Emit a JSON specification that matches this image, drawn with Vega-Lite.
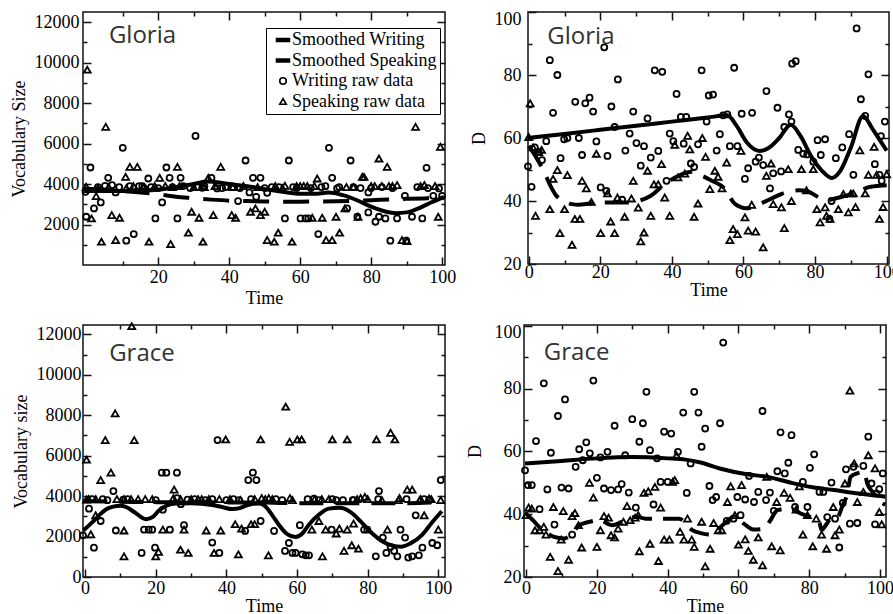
{
"$schema":"https://vega.github.io/schema/vega-lite/v6.json",
"background":"white",
"padding":{"left":9,"top":9,"right":0,"bottom":0},
"config":{
 "view":{"stroke":"#111","strokeWidth":1.5},
 "point":{"opacity":1},
 "axis":{"grid":false,"domain":false,"labelFont":"Liberation Serif","labelFontSize":18,"labelColor":"#000","titleFont":"Liberation Serif","titleFontSize":18,"titleFontWeight":"normal","titleColor":"#000","tickColor":"#111","tickWidth":1.5,"labelFlush":false,"labelOverlap":false}
},
"datasets":{
 "g1sw":[{"t":-1,"v":3650},{"t":5,"v":3650},{"t":10,"v":3650},{"t":15,"v":3680},{"t":20,"v":3720},{"t":25,"v":3850},{"t":30,"v":4000},{"t":34,"v":4120},{"t":38,"v":4050},{"t":42,"v":3950},{"t":46,"v":3870},{"t":50,"v":3750},{"t":55,"v":3620},{"t":60,"v":3520},{"t":64,"v":3520},{"t":68,"v":3580},{"t":72,"v":3450},{"t":76,"v":3200},{"t":80,"v":2880},{"t":84,"v":2640},{"t":87,"v":2560},{"t":90,"v":2600},{"t":94,"v":2850},{"t":97,"v":3100},{"t":100.5,"v":3370}],
 "g1ss":[{"t":-1,"v":3780},{"t":5,"v":3720},{"t":10,"v":3660},{"t":15,"v":3580},{"t":20,"v":3500},{"t":25,"v":3370},{"t":30,"v":3300},{"t":35,"v":3230},{"t":40,"v":3180},{"t":45,"v":3160},{"t":50,"v":3140},{"t":55,"v":3130},{"t":60,"v":3130},{"t":65,"v":3140},{"t":70,"v":3150},{"t":75,"v":3170},{"t":80,"v":3200},{"t":85,"v":3240},{"t":90,"v":3270},{"t":95,"v":3290},{"t":100.5,"v":3300}],
 "g1w":[{"t":-0.5,"v":3617,"s":"W"},{"t":-0.3,"v":2384,"s":"W"},{"t":0.9,"v":4817,"s":"W"},{"t":1.9,"v":2795,"s":"W"},{"t":3.8,"v":3091,"s":"W"},{"t":5,"v":3913,"s":"W"},{"t":5.9,"v":4307,"s":"W"},{"t":7,"v":3945,"s":"W"},{"t":8,"v":3584,"s":"W"},{"t":10,"v":5787,"s":"W"},{"t":11,"v":1200,"s":"W"},{"t":12,"v":3896,"s":"W"},{"t":13.1,"v":1529,"s":"W"},{"t":14.6,"v":3896,"s":"W"},{"t":17.2,"v":4274,"s":"W"},{"t":19.2,"v":2301,"s":"W"},{"t":21.1,"v":3091,"s":"W"},{"t":22.3,"v":4817,"s":"W"},{"t":23.2,"v":4307,"s":"W"},{"t":25.4,"v":2301,"s":"W"},{"t":26.3,"v":4307,"s":"W"},{"t":30.5,"v":6378,"s":"W"},{"t":32.4,"v":3814,"s":"W"},{"t":36.6,"v":3781,"s":"W"},{"t":42.5,"v":3156,"s":"W"},{"t":44.6,"v":5162,"s":"W"},{"t":45.7,"v":3584,"s":"W"},{"t":46.7,"v":4307,"s":"W"},{"t":47.6,"v":3370,"s":"W"},{"t":48.8,"v":4307,"s":"W"},{"t":50.7,"v":3567,"s":"W"},{"t":55.7,"v":2301,"s":"W"},{"t":56.8,"v":5162,"s":"W"},{"t":60.1,"v":2301,"s":"W"},{"t":61.5,"v":2301,"s":"W"},{"t":62.3,"v":2301,"s":"W"},{"t":65.1,"v":1529,"s":"W"},{"t":67.1,"v":3896,"s":"W"},{"t":68.1,"v":5787,"s":"W"},{"t":69,"v":4307,"s":"W"},{"t":70.4,"v":3781,"s":"W"},{"t":73.2,"v":2795,"s":"W"},{"t":74.2,"v":5162,"s":"W"},{"t":76.1,"v":2384,"s":"W"},{"t":79.2,"v":3584,"s":"W"},{"t":79.2,"v":2597,"s":"W"},{"t":81.2,"v":2137,"s":"W"},{"t":82.2,"v":2384,"s":"W"},{"t":84,"v":2301,"s":"W"},{"t":85.4,"v":1200,"s":"W"},{"t":87.3,"v":2301,"s":"W"},{"t":89.5,"v":3419,"s":"W"},{"t":89.9,"v":1200,"s":"W"},{"t":91.5,"v":2384,"s":"W"},{"t":94.4,"v":2301,"s":"W"},{"t":95.6,"v":4800,"s":"W"},{"t":97.5,"v":3419,"s":"W"},{"t":99.1,"v":3781,"s":"W"},{"t":100,"v":3419,"s":"W"},
  {"t":3,"v":3850,"s":"W"},{"t":9,"v":3850,"s":"W"},{"t":15.5,"v":3900,"s":"W"},{"t":16,"v":3800,"s":"W"},{"t":18,"v":3850,"s":"W"},{"t":20,"v":3800,"s":"W"},{"t":24,"v":3850,"s":"W"},{"t":27,"v":3900,"s":"W"},{"t":29,"v":3800,"s":"W"},{"t":31,"v":3850,"s":"W"},{"t":33,"v":3900,"s":"W"},{"t":35,"v":4300,"s":"W"},{"t":38,"v":3800,"s":"W"},{"t":39,"v":3850,"s":"W"},{"t":41,"v":3850,"s":"W"},{"t":43,"v":3800,"s":"W"},{"t":50,"v":3800,"s":"W"},{"t":52,"v":3850,"s":"W"},{"t":54,"v":3850,"s":"W"},{"t":58,"v":3850,"s":"W"},{"t":59,"v":3800,"s":"W"},{"t":63,"v":3800,"s":"W"},{"t":66,"v":3850,"s":"W"},{"t":71,"v":3850,"s":"W"},{"t":75,"v":3850,"s":"W"},{"t":77,"v":3800,"s":"W"},{"t":80,"v":3800,"s":"W"},{"t":83,"v":3850,"s":"W"},{"t":86,"v":3800,"s":"W"},{"t":93,"v":3850,"s":"W"},{"t":96,"v":3800,"s":"W"}],
 "g1s":[{"t":0,"v":9650,"s":"S"},{"t":-0.3,"v":3863,"s":"S"},{"t":1.2,"v":2301,"s":"S"},{"t":2.5,"v":3403,"s":"S"},{"t":4,"v":1151,"s":"S"},{"t":5.2,"v":6822,"s":"S"},{"t":6.9,"v":2466,"s":"S"},{"t":8,"v":1233,"s":"S"},{"t":9.1,"v":2334,"s":"S"},{"t":10.8,"v":4356,"s":"S"},{"t":12,"v":4850,"s":"S"},{"t":14.1,"v":4850,"s":"S"},{"t":17.4,"v":1151,"s":"S"},{"t":20.4,"v":4307,"s":"S"},{"t":23.5,"v":1036,"s":"S"},{"t":25.4,"v":4850,"s":"S"},{"t":28.5,"v":1595,"s":"S"},{"t":29.4,"v":2630,"s":"S"},{"t":31.5,"v":2334,"s":"S"},{"t":32.6,"v":1151,"s":"S"},{"t":34.1,"v":4307,"s":"S"},{"t":35.5,"v":2466,"s":"S"},{"t":37.6,"v":4850,"s":"S"},{"t":40.7,"v":2466,"s":"S"},{"t":41.8,"v":2334,"s":"S"},{"t":46,"v":2630,"s":"S"},{"t":47.4,"v":2795,"s":"S"},{"t":48.8,"v":2466,"s":"S"},{"t":50,"v":2630,"s":"S"},{"t":50.7,"v":1233,"s":"S"},{"t":52.7,"v":1151,"s":"S"},{"t":53.8,"v":1595,"s":"S"},{"t":55.7,"v":3913,"s":"S"},{"t":57.7,"v":1151,"s":"S"},{"t":63.4,"v":2334,"s":"S"},{"t":64.8,"v":4274,"s":"S"},{"t":66.2,"v":2334,"s":"S"},{"t":67.3,"v":1233,"s":"S"},{"t":69,"v":1233,"s":"S"},{"t":70.1,"v":2384,"s":"S"},{"t":71.1,"v":1595,"s":"S"},{"t":72.6,"v":2795,"s":"S"},{"t":76.3,"v":2384,"s":"S"},{"t":77.5,"v":4356,"s":"S"},{"t":82.2,"v":5261,"s":"S"},{"t":84.5,"v":4850,"s":"S"},{"t":87.3,"v":3945,"s":"S"},{"t":88.7,"v":1233,"s":"S"},{"t":90.1,"v":1184,"s":"S"},{"t":92.5,"v":6822,"s":"S"},{"t":93.9,"v":3896,"s":"S"},{"t":98.9,"v":2384,"s":"S"},{"t":99.5,"v":5836,"s":"S"},
  {"t":3,"v":3800,"s":"S"},{"t":6,"v":3850,"s":"S"},{"t":11,"v":3800,"s":"S"},{"t":13,"v":3900,"s":"S"},{"t":16,"v":3850,"s":"S"},{"t":19,"v":3900,"s":"S"},{"t":22,"v":3900,"s":"S"},{"t":24,"v":3850,"s":"S"},{"t":26,"v":3900,"s":"S"},{"t":30,"v":3850,"s":"S"},{"t":33,"v":3850,"s":"S"},{"t":36,"v":3900,"s":"S"},{"t":41,"v":3850,"s":"S"},{"t":44,"v":3900,"s":"S"},{"t":48,"v":3850,"s":"S"},{"t":53,"v":3900,"s":"S"},{"t":55,"v":3800,"s":"S"},{"t":59,"v":3900,"s":"S"},{"t":60,"v":3900,"s":"S"},{"t":61,"v":3900,"s":"S"},{"t":62,"v":3900,"s":"S"},{"t":64,"v":3900,"s":"S"},{"t":73,"v":3850,"s":"S"},{"t":75,"v":3850,"s":"S"},{"t":78,"v":4350,"s":"S"},{"t":80,"v":3900,"s":"S"},{"t":81,"v":3900,"s":"S"},{"t":83,"v":3900,"s":"S"},{"t":85,"v":3900,"s":"S"},{"t":86,"v":3900,"s":"S"},{"t":95,"v":3950,"s":"S"},{"t":98,"v":3900,"s":"S"}],
 "g2sw":[{"t":-0.2,"v":60},{"t":10,"v":61.3},{"t":20,"v":62.6},{"t":30,"v":63.9},{"t":40,"v":65.2},{"t":50,"v":66.5},{"t":55.5,"v":67.2},{"t":58,"v":64},{"t":61,"v":58.5},{"t":64.5,"v":55.9},{"t":67,"v":56.8},{"t":70,"v":60},{"t":73.2,"v":64.2},{"t":76,"v":60.5},{"t":79,"v":54},{"t":82,"v":49.5},{"t":84.6,"v":47.3},{"t":87,"v":49.5},{"t":90,"v":57},{"t":93.4,"v":67},{"t":96,"v":63},{"t":98,"v":59.5},{"t":100,"v":56}],
 "g2ss":[{"t":0,"v":57.5},{"t":2,"v":54},{"t":4,"v":50},{"t":6,"v":45},{"t":7.5,"v":42},{"t":10,"v":40},{"t":12,"v":39},{"t":14,"v":38.8},{"t":17,"v":39.2},{"t":20,"v":39.5},{"t":24,"v":39.5},{"t":27,"v":39.5},{"t":30.5,"v":40},{"t":34,"v":41.6},{"t":38,"v":45.3},{"t":41,"v":47.5},{"t":44,"v":49},{"t":45.5,"v":49.3},{"t":48.8,"v":47.8},{"t":51,"v":46.5},{"t":54.4,"v":44.3},{"t":57.7,"v":39},{"t":60.8,"v":37.7},{"t":63,"v":38.3},{"t":66,"v":39.8},{"t":69.7,"v":41.8},{"t":72.5,"v":43},{"t":75.3,"v":43.4},{"t":78,"v":43},{"t":81,"v":41.2},{"t":83,"v":40.2},{"t":84.5,"v":40.5},{"t":88,"v":41.5},{"t":91.8,"v":42.8},{"t":95,"v":44.4},{"t":98.6,"v":44.9},{"t":100,"v":45}],
 "g2w":[{"t":-0.2,"v":51},{"t":0.8,"v":44.5},{"t":1.7,"v":57},{"t":2.8,"v":55.5},{"t":3.7,"v":53},{"t":4.9,"v":59},{"t":5.9,"v":84.7},{"t":6.8,"v":68},{"t":8,"v":80},{"t":8.9,"v":53.6},{"t":9.9,"v":59.6},{"t":10.8,"v":60},{"t":13,"v":71.5},{"t":14,"v":60},{"t":14.9,"v":54.6},{"t":15.8,"v":71},{"t":17,"v":72.8},{"t":18,"v":68.4},{"t":18.9,"v":58.9},{"t":20.1,"v":44.3},{"t":21.1,"v":88.8},{"t":21.7,"v":43.2},{"t":22,"v":54.3},{"t":23.1,"v":70},{"t":24,"v":63.5},{"t":24.9,"v":78.6},{"t":26.1,"v":40.4},{"t":27,"v":56},{"t":28.2,"v":61.4},{"t":29.2,"v":68.4},{"t":30.1,"v":58.4},{"t":31.3,"v":51.2},{"t":32.2,"v":57.4},{"t":33.2,"v":66.2},{"t":34.1,"v":53.8},{"t":35.2,"v":81.5},{"t":36.2,"v":55.9},{"t":37.3,"v":81},{"t":38.5,"v":46.4},{"t":39.4,"v":61.4},{"t":40.4,"v":59},{"t":41.3,"v":74},{"t":42.5,"v":66.7},{"t":43.3,"v":58.2},{"t":44,"v":66.7},{"t":45.3,"v":51.9},{"t":46.2,"v":50.8},{"t":47.3,"v":58},{"t":48.3,"v":81.5},{"t":49.7,"v":65.2},{"t":50.3,"v":73.5},{"t":51.5,"v":73.8},{"t":52.5,"v":56},{"t":53.4,"v":61.2},{"t":54.3,"v":67.2},{"t":55.5,"v":67.5},{"t":56.2,"v":57.4},{"t":57.4,"v":82.3},{"t":58.3,"v":57.4},{"t":59.5,"v":67.7},{"t":60.4,"v":47},{"t":61.3,"v":50.4},{"t":62.4,"v":68},{"t":63.4,"v":52.5},{"t":64.3,"v":53.8},{"t":65.5,"v":51.4},{"t":66.4,"v":74.9},{"t":67.4,"v":44},{"t":68.3,"v":48.8},{"t":69.5,"v":69.6},{"t":70.5,"v":49.4},{"t":71.4,"v":63.5},{"t":72.7,"v":67.5},{"t":73.4,"v":65.2},{"t":73.6,"v":83.6},{"t":74.6,"v":84.4},{"t":75.3,"v":56.2},{"t":76.7,"v":55},{"t":77.8,"v":54.8},{"t":79.5,"v":52.5},{"t":80.7,"v":59.3},{"t":81.6,"v":54.6},{"t":82.8,"v":59.6},{"t":84,"v":34.3},{"t":84.6,"v":40},{"t":85.8,"v":53.6},{"t":87.6,"v":57},{"t":89.5,"v":61.2},{"t":90.7,"v":48.3},{"t":91.6,"v":94.8},{"t":92.8,"v":72.3},{"t":94,"v":67},{"t":94.9,"v":80.2},{"t":96.7,"v":51.7},{"t":98,"v":48.3},{"t":98.4,"v":60.6},{"t":98.6,"v":46.4},{"t":99.5,"v":65.2}],
 "g2s":[{"t":0.4,"v":71},{"t":0,"v":60.3},{"t":1.2,"v":57},{"t":2.8,"v":55.5},{"t":3.6,"v":56.2},{"t":1.9,"v":35.3},{"t":5.9,"v":37.4},{"t":6.8,"v":47},{"t":8,"v":49.8},{"t":8.7,"v":29.8},{"t":10.8,"v":48.2},{"t":10,"v":37.4},{"t":12.1,"v":26.1},{"t":12.9,"v":34.3},{"t":14.3,"v":34.3},{"t":14.9,"v":46.4},{"t":16.1,"v":44},{"t":17.5,"v":39.7},{"t":18.9,"v":55},{"t":20.1,"v":29.8},{"t":22,"v":42.4},{"t":22.9,"v":33.5},{"t":24,"v":29.8},{"t":24.8,"v":41.1},{"t":26.8,"v":35},{"t":28.7,"v":40.8},{"t":29.2,"v":46.4},{"t":30.6,"v":37.9},{"t":31.3,"v":27.2},{"t":32.2,"v":30},{"t":33.2,"v":49.6},{"t":34.1,"v":35.3},{"t":35,"v":45.3},{"t":36.2,"v":45.3},{"t":37.1,"v":51.7},{"t":38,"v":41.1},{"t":39.4,"v":35.3},{"t":40.8,"v":57.8},{"t":41.7,"v":47.5},{"t":43.6,"v":48.7},{"t":44.4,"v":60.7},{"t":45,"v":56.4},{"t":46.2,"v":35},{"t":47.3,"v":39.2},{"t":48.5,"v":60},{"t":49.4,"v":54},{"t":50.6,"v":43.8},{"t":52,"v":49.6},{"t":52.9,"v":47.7},{"t":54,"v":44},{"t":55.3,"v":52.2},{"t":56.2,"v":27.6},{"t":57.1,"v":31.1},{"t":58.3,"v":29.5},{"t":59.3,"v":55.9},{"t":60.4,"v":34.8},{"t":61.3,"v":30.6},{"t":62.3,"v":38.8},{"t":63.4,"v":30.3},{"t":65.5,"v":25.3},{"t":66.4,"v":48},{"t":67.7,"v":51.9},{"t":68.3,"v":39},{"t":70.6,"v":38},{"t":71.4,"v":31.4},{"t":72.5,"v":50.1},{"t":73.4,"v":40},{"t":76.2,"v":50.1},{"t":77.6,"v":43.4},{"t":79.5,"v":50.1},{"t":80.5,"v":37.4},{"t":81.4,"v":33.2},{"t":82.8,"v":38},{"t":83.2,"v":35.3},{"t":84.2,"v":34.3},{"t":86.5,"v":37.4},{"t":87.9,"v":42.2},{"t":89.3,"v":36.4},{"t":90,"v":42.4},{"t":90.7,"v":42.4},{"t":91.3,"v":38.1},{"t":92.5,"v":56.1},{"t":94,"v":42.4},{"t":94.9,"v":48.3},{"t":96.5,"v":57.2},{"t":97.2,"v":48.3},{"t":98,"v":34.3},{"t":99,"v":38.1},{"t":100,"v":48.5}],
 "g3sw":[{"t":-0.5,"v":2300},{"t":2,"v":2700},{"t":4,"v":3060},{"t":6,"v":3350},{"t":7.7,"v":3470},{"t":10,"v":3520},{"t":11.5,"v":3470},{"t":14,"v":3200},{"t":17.2,"v":2860},{"t":19,"v":2950},{"t":21,"v":3300},{"t":23,"v":3520},{"t":25.7,"v":3640},{"t":30,"v":3650},{"t":36,"v":3560},{"t":39,"v":3450},{"t":41.7,"v":3360},{"t":44,"v":3420},{"t":46,"v":3560},{"t":49.3,"v":3640},{"t":51,"v":3500},{"t":53,"v":3050},{"t":55,"v":2550},{"t":57,"v":2150},{"t":59.6,"v":1980},{"t":61.5,"v":2150},{"t":63.4,"v":2600},{"t":66,"v":3050},{"t":69,"v":3380},{"t":72,"v":3420},{"t":75.7,"v":3140},{"t":78,"v":2750},{"t":81.3,"v":2150},{"t":84,"v":1780},{"t":87,"v":1550},{"t":89.5,"v":1500},{"t":92,"v":1650},{"t":95.5,"v":2100},{"t":98,"v":2650},{"t":101,"v":3250}],
 "g3ss":[{"t":-0.5,"v":3750},{"t":10,"v":3720},{"t":20,"v":3700},{"t":30,"v":3700},{"t":40,"v":3680},{"t":50,"v":3680},{"t":60,"v":3650},{"t":70,"v":3650},{"t":80,"v":3650},{"t":90,"v":3650},{"t":101,"v":3700}],
 "g3w":[{"t":-0.6,"v":2060},{"t":1.1,"v":3380},{"t":2.5,"v":1450},{"t":4.4,"v":2770},{"t":6.3,"v":3800},{"t":8,"v":4250},{"t":8.7,"v":2300},{"t":10.8,"v":3830},{"t":16,"v":1190},{"t":16.7,"v":2340},{"t":18,"v":2340},{"t":19,"v":2340},{"t":19.8,"v":1450},{"t":22,"v":3330},{"t":21.7,"v":5160},{"t":23,"v":5160},{"t":24,"v":2340},{"t":26,"v":5160},{"t":27.1,"v":3600},{"t":28,"v":2560},{"t":29,"v":3830},{"t":34,"v":3800},{"t":36,"v":1700},{"t":37.5,"v":6770},{"t":38,"v":1190},{"t":40,"v":3800},{"t":43.6,"v":3800},{"t":45.3,"v":2280},{"t":46.2,"v":4790},{"t":47.5,"v":5160},{"t":48.5,"v":4790},{"t":49.7,"v":2770},{"t":53.5,"v":2280},{"t":55.8,"v":3800},{"t":56.6,"v":1290},{"t":57.7,"v":1680},{"t":58.7,"v":1190},{"t":59.6,"v":1190},{"t":60.8,"v":2560},{"t":61.5,"v":1120},{"t":62.5,"v":1070},{"t":63.4,"v":1070},{"t":64.8,"v":3880},{"t":66.2,"v":3800},{"t":69.8,"v":2340},{"t":71.1,"v":3800},{"t":73,"v":3800},{"t":75.8,"v":3800},{"t":79,"v":2340},{"t":79.9,"v":2340},{"t":82.3,"v":1020},{"t":83.2,"v":4250},{"t":84.3,"v":1950},{"t":85.3,"v":1190},{"t":86.5,"v":1490},{"t":87.5,"v":1290},{"t":88.4,"v":1020},{"t":89.3,"v":2340},{"t":90.6,"v":1950},{"t":91.5,"v":960},{"t":92.6,"v":1020},{"t":93.6,"v":3050},{"t":94.5,"v":1070},{"t":95.5,"v":1450},{"t":97.4,"v":3800},{"t":98.3,"v":1680},{"t":99.7,"v":1570},{"t":100.7,"v":4790},
  {"t":2,"v":3850},{"t":5,"v":3850},{"t":12,"v":3850},{"t":20,"v":3800},{"t":26,"v":3900},{"t":31,"v":3850},{"t":36,"v":3850},{"t":42,"v":3850},{"t":47,"v":3850},{"t":54,"v":3850},{"t":63,"v":3850},{"t":70,"v":3850},{"t":76,"v":3800},{"t":83,"v":3850},{"t":91,"v":3850},{"t":96,"v":3850}],
 "g3s":[{"t":0.4,"v":3830},{"t":0.4,"v":5800},{"t":1.6,"v":2110},{"t":3,"v":3050},{"t":4.4,"v":4790},{"t":5.7,"v":6770},{"t":7.3,"v":5160},{"t":8.5,"v":8090},{"t":11,"v":2300},{"t":13.2,"v":12400},{"t":13.9,"v":6770},{"t":11,"v":1020},{"t":20,"v":1020},{"t":20.8,"v":1240},{"t":22,"v":2340},{"t":25.2,"v":4320},{"t":27,"v":1350},{"t":29.2,"v":1190},{"t":28,"v":2340},{"t":34.3,"v":2300},{"t":36.5,"v":1190},{"t":38.4,"v":2300},{"t":39.8,"v":6800},{"t":42.5,"v":2610},{"t":43.4,"v":1120},{"t":44.3,"v":2390},{"t":47,"v":2610},{"t":48,"v":2610},{"t":49.7,"v":6800},{"t":51.9,"v":1070},{"t":56.8,"v":8420},{"t":57.9,"v":6680},{"t":58.7,"v":3800},{"t":60.1,"v":6800},{"t":61.3,"v":6800},{"t":64.2,"v":2340},{"t":66.2,"v":2770},{"t":67.2,"v":1020},{"t":68.1,"v":2340},{"t":70,"v":6800},{"t":71.1,"v":2150},{"t":72,"v":2390},{"t":73.3,"v":1290},{"t":74.2,"v":6800},{"t":74.2,"v":2340},{"t":75.5,"v":1570},{"t":76,"v":2640},{"t":77.4,"v":1400},{"t":79.2,"v":3960},{"t":82.5,"v":6800},{"t":84,"v":3800},{"t":85.6,"v":2340},{"t":86.5,"v":7130},{"t":87.7,"v":6800},{"t":88.7,"v":3800},{"t":91.2,"v":4320},{"t":92.6,"v":4320},{"t":94.7,"v":3800},{"t":96,"v":3050},{"t":97.4,"v":3880},{"t":100,"v":2340},{"t":100.7,"v":3800},
  {"t":1,"v":3850},{"t":3,"v":3850},{"t":9,"v":3850},{"t":11,"v":3850},{"t":13,"v":3850},{"t":15,"v":3850},{"t":17,"v":3850},{"t":19,"v":3850},{"t":25,"v":3900},{"t":27,"v":3850},{"t":30,"v":3850},{"t":32,"v":3850},{"t":33,"v":3850},{"t":35,"v":3850},{"t":38,"v":3850},{"t":41,"v":3850},{"t":44,"v":3800},{"t":48,"v":3850},{"t":50,"v":3900},{"t":51,"v":3850},{"t":52,"v":3900},{"t":53,"v":3850},{"t":58,"v":3900},{"t":65,"v":3850},{"t":67,"v":3850},{"t":69,"v":3850},{"t":77,"v":3850},{"t":78,"v":3900},{"t":80,"v":3850},{"t":89,"v":3900},{"t":95,"v":3850},{"t":98,"v":3850}],
 "g4sw":[{"t":-0.3,"v":56.2},{"t":10,"v":57},{"t":20,"v":57.8},{"t":30,"v":58.2},{"t":40,"v":57.8},{"t":45,"v":57.4},{"t":49.3,"v":56.5},{"t":55,"v":54.5},{"t":62,"v":52.8},{"t":68.2,"v":51.9},{"t":75,"v":50},{"t":81,"v":48.6},{"t":87,"v":47.7},{"t":94,"v":46.6},{"t":100.2,"v":45.8},{"t":101.5,"v":45.6}],
 "g4ss":[{"t":-0.1,"v":40.2},{"t":2,"v":38},{"t":4.2,"v":35.4},{"t":6,"v":34},{"t":7.9,"v":32.8},{"t":10.7,"v":32.3},{"t":12.6,"v":33.3},{"t":15,"v":36.5},{"t":18,"v":37.6},{"t":20.6,"v":38.1},{"t":24.4,"v":36.5},{"t":27,"v":37.6},{"t":31,"v":39.2},{"t":33.8,"v":38.6},{"t":36.5,"v":38.6},{"t":39.5,"v":38.6},{"t":43.2,"v":38.6},{"t":47,"v":34.9},{"t":49.3,"v":34},{"t":52,"v":33.5},{"t":54.5,"v":35.5},{"t":56.5,"v":37.5},{"t":58.8,"v":39.2},{"t":61.5,"v":37},{"t":64.4,"v":35.1},{"t":67.2,"v":35.4},{"t":69,"v":38},{"t":71,"v":41.3},{"t":74.3,"v":41.8},{"t":78,"v":40},{"t":80.5,"v":39},{"t":82.8,"v":37.6},{"t":83.5,"v":35},{"t":85,"v":37},{"t":86.6,"v":39.2},{"t":88,"v":39.2},{"t":89.5,"v":43},{"t":90.8,"v":46.6},{"t":91.7,"v":51.9},{"t":93.5,"v":53},{"t":95.5,"v":53.5},{"t":96.4,"v":49.8},{"t":98,"v":47},{"t":100.2,"v":43.9},{"t":101.5,"v":43}],
 "g4w":[{"t":-0.3,"v":54},{"t":0.5,"v":49.3},{"t":1.6,"v":49.3},{"t":2.8,"v":63.3},{"t":3.8,"v":41.6},{"t":5,"v":81.7},{"t":6,"v":47.9},{"t":7,"v":59.6},{"t":8,"v":36.7},{"t":9,"v":71.3},{"t":10,"v":48.5},{"t":11,"v":76.6},{"t":12,"v":48.2},{"t":13,"v":33.5},{"t":14,"v":55.1},{"t":15,"v":60.7},{"t":16,"v":57.2},{"t":17,"v":62.9},{"t":18,"v":59.4},{"t":19,"v":82.6},{"t":20,"v":51.6},{"t":21,"v":58.1},{"t":22,"v":48.2},{"t":23,"v":59.9},{"t":24,"v":47.7},{"t":25,"v":68.2},{"t":26,"v":47.9},{"t":27,"v":49.6},{"t":28,"v":58.8},{"t":29,"v":46.9},{"t":30,"v":70.3},{"t":31,"v":42.1},{"t":32,"v":63.1},{"t":33,"v":69},{"t":34,"v":79},{"t":35,"v":60.4},{"t":36,"v":43.1},{"t":37,"v":57.8},{"t":38,"v":50.3},{"t":39,"v":66.3},{"t":40,"v":50.3},{"t":41,"v":65.7},{"t":42.9,"v":59.9},{"t":44.4,"v":72.4},{"t":45.4,"v":46.8},{"t":46.5,"v":56.2},{"t":47.5,"v":79},{"t":48.7,"v":72.4},{"t":49.6,"v":61.5},{"t":50.6,"v":67.3},{"t":51.8,"v":49},{"t":52.7,"v":44.5},{"t":53.7,"v":45.5},{"t":54.8,"v":69},{"t":55.7,"v":94.7},{"t":56.7,"v":37.9},{"t":58.6,"v":38.6},{"t":59.7,"v":45.5},{"t":60.6,"v":39.7},{"t":61.9,"v":44.7},{"t":63,"v":52.2},{"t":64.4,"v":43.9},{"t":65.6,"v":47.1},{"t":66.8,"v":72.9},{"t":67.8,"v":44.5},{"t":68.9,"v":46.9},{"t":70,"v":41.1},{"t":71,"v":53.7},{"t":71.9,"v":66.1},{"t":73.1,"v":53},{"t":74.1,"v":56.4},{"t":75,"v":65.2},{"t":76,"v":42.3},{"t":78.2,"v":50.3},{"t":79.5,"v":42.3},{"t":80.2,"v":54.8},{"t":81.4,"v":59.1},{"t":82.9,"v":47.1},{"t":84,"v":47.1},{"t":85.1,"v":39.1},{"t":86.3,"v":50.1},{"t":87.3,"v":38.6},{"t":88.5,"v":29.4},{"t":89.5,"v":43.6},{"t":90.4,"v":54.3},{"t":91.5,"v":37},{"t":92.5,"v":55.1},{"t":93.6,"v":37.2},{"t":95.3,"v":55.4},{"t":96.7,"v":64.7},{"t":97.6,"v":49.8},{"t":98.6,"v":36.8},{"t":99,"v":46.6},{"t":99.8,"v":48},{"t":100.8,"v":53}],
 "g4s":[{"t":0,"v":39.7},{"t":0.7,"v":42.1},{"t":1.6,"v":41.8},{"t":2.5,"v":34.9},{"t":3.8,"v":34.9},{"t":5,"v":36},{"t":5.6,"v":33.5},{"t":6.8,"v":26.4},{"t":7.7,"v":42.3},{"t":9,"v":21.9},{"t":9.9,"v":31.9},{"t":10.5,"v":41},{"t":12,"v":25.5},{"t":13,"v":39.4},{"t":13.8,"v":40.4},{"t":14.8,"v":36.5},{"t":15.7,"v":29.4},{"t":17.9,"v":50},{"t":19,"v":45.3},{"t":20,"v":29.6},{"t":21,"v":34.9},{"t":22,"v":39.4},{"t":23.3,"v":38.9},{"t":24,"v":33.3},{"t":25,"v":32.6},{"t":26,"v":35.4},{"t":27.5,"v":37.6},{"t":28.5,"v":42.6},{"t":29.4,"v":38.1},{"t":30.8,"v":38.9},{"t":31.7,"v":39.7},{"t":32,"v":28.2},{"t":33.3,"v":46.8},{"t":34.5,"v":47.3},{"t":35,"v":30.6},{"t":36.4,"v":48.7},{"t":37.4,"v":25.1},{"t":38,"v":42.1},{"t":39,"v":31.9},{"t":40.5,"v":31.9},{"t":41.4,"v":50.3},{"t":42,"v":50.9},{"t":42.5,"v":58.8},{"t":43.5,"v":34.4},{"t":44.6,"v":31.9},{"t":45.6,"v":38.6},{"t":46.8,"v":31.9},{"t":47.5,"v":29.6},{"t":49.6,"v":37.6},{"t":50.6,"v":23.4},{"t":52,"v":29},{"t":53,"v":37.2},{"t":54.3,"v":34.9},{"t":55.3,"v":34.9},{"t":56.9,"v":43.9},{"t":57.8,"v":48.9},{"t":59,"v":39.7},{"t":60,"v":30.3},{"t":60.9,"v":49.3},{"t":61.9,"v":32},{"t":62.8,"v":28.3},{"t":64.2,"v":25.5},{"t":65.6,"v":32.6},{"t":66.8,"v":23.7},{"t":68,"v":51.9},{"t":69.4,"v":29.8},{"t":70.8,"v":43.9},{"t":71.8,"v":28.5},{"t":72.9,"v":46.8},{"t":74.6,"v":45.2},{"t":76.3,"v":41.5},{"t":77.2,"v":48.9},{"t":78.2,"v":33.5},{"t":79.5,"v":39.7},{"t":81,"v":29.8},{"t":82,"v":38.6},{"t":83.5,"v":33.5},{"t":84.9,"v":29},{"t":86.8,"v":42.3},{"t":87.3,"v":33.3},{"t":88.5,"v":35.1},{"t":90.1,"v":49.8},{"t":91.5,"v":79.4},{"t":92.7,"v":56.2},{"t":93.6,"v":43.9},{"t":95.3,"v":47.1},{"t":96.7,"v":58.8},{"t":98.6,"v":54.6},{"t":99.8,"v":40.7},{"t":100.5,"v":36.8}]
},
"resolve":{"scale":{"shape":"independent","fill":"independent","stroke":"independent"},"legend":{"shape":"independent","fill":"independent","stroke":"independent"}},
"spacing":10,
"vconcat":[
 {"spacing":12,
  "resolve":{"scale":{"shape":"independent","fill":"independent","stroke":"independent"},"legend":{"shape":"independent","fill":"independent","stroke":"independent"}},
  "hconcat":[
  {"width":362,"height":253,
   "resolve":{"axis":{"x":"independent","y":"independent"}},
   "layer":[
    {"data":{"name":"g1sw"},"mark":{"type":"line","color":"black","strokeWidth":4,"interpolate":"monotone"},
     "encoding":{"x":{"field":"t","type":"quantitative","scale":{"domain":[-1.2,100.8],"nice":false,"zero":false},"axis":{"orient":"bottom","values":[20,40,60,80,100],"tickSize":-8,"labelPadding":11,"title":"Time","titlePadding":3,"labelFont":"Liberation Serif","labelFontSize":18}},
                 "y":{"field":"v","type":"quantitative","scale":{"domain":[0,12500],"nice":false,"zero":false},"axis":{"orient":"left","values":[2000,4000,6000,8000,10000,12000],"format":"d","tickSize":-8,"labelPadding":12,"title":"Vocabulary Size","titlePadding":6,"labelFont":"Liberation Serif","labelFontSize":18}}}},
    {"data":{"name":"g1ss"},"mark":{"type":"line","color":"black","strokeWidth":4,"strokeDash":[26,14],"interpolate":"monotone"},
     "encoding":{"x":{"field":"t","type":"quantitative","scale":{"domain":[-1.2,100.8],"nice":false,"zero":false},"axis":{"orient":"bottom","values":[10,30,50,70,90],"tickSize":-4,"labels":false,"title":null}},
                 "y":{"field":"v","type":"quantitative","scale":{"domain":[0,12500],"nice":false,"zero":false},"axis":{"orient":"left","values":[1000,3000,5000,7000,9000,11000],"tickSize":-4,"labels":false,"title":null}}}},
    {"data":{"name":"g1w"},"mark":{"type":"point","filled":true,"strokeWidth":1.8,"size":36,"opacity":1},
     "encoding":{"x":{"field":"t","type":"quantitative","scale":{"domain":[-1.2,100.8],"nice":false,"zero":false},"axis":{"orient":"top","values":[20,40,60,80],"tickSize":-8,"labels":false,"title":null}},
                 "y":{"field":"v","type":"quantitative","scale":{"domain":[0,12500],"nice":false,"zero":false},"axis":{"orient":"right","values":[2000,4000,6000,8000,10000,12000],"tickSize":-8,"labels":false,"title":null}},
                 "shape":{"field":"s","type":"nominal","scale":{"domain":["SW","SS","W","S"],"range":["M-2,-0.45H2V0.45H-2Z","M-2,-0.45H-0.2V0.45H-2ZM0.3,-0.45H2V0.45H0.3Z","circle","triangle-up"]},
                   "legend":{"orient":"none","legendX":183,"legendY":16,"title":null,"labelExpr":"datum.label=='SW'?'Smoothed Writing':datum.label=='SS'?'Smoothed Speaking':datum.label=='W'?'Writing raw data':'Speaking raw data'","strokeColor":"black","fillColor":"white","padding":3,"symbolOffset":5,"labelOffset":0,"labelFont":"Liberation Serif","labelFontSize":18,"labelColor":"black","symbolSize":42,"symbolStrokeWidth":1.6,"symbolOpacity":1,"rowPadding":2.5}},
                 "fill":{"field":"s","type":"nominal","scale":{"domain":["SW","SS","W","S"],"range":["black","black","transparent","transparent"]},
                   "legend":{"orient":"none","legendX":183,"legendY":16,"title":null,"labelExpr":"datum.label=='SW'?'Smoothed Writing':datum.label=='SS'?'Smoothed Speaking':datum.label=='W'?'Writing raw data':'Speaking raw data'","strokeColor":"black","fillColor":"white","padding":3,"symbolOffset":5,"labelOffset":0,"labelFont":"Liberation Serif","labelFontSize":18,"labelColor":"black","symbolSize":42,"symbolStrokeWidth":1.6,"symbolOpacity":1,"rowPadding":2.5}},
                 "stroke":{"field":"s","type":"nominal","scale":{"domain":["SW","SS","W","S"],"range":["black","black","black","black"]},
                   "legend":{"orient":"none","legendX":183,"legendY":16,"title":null,"labelExpr":"datum.label=='SW'?'Smoothed Writing':datum.label=='SS'?'Smoothed Speaking':datum.label=='W'?'Writing raw data':'Speaking raw data'","strokeColor":"black","fillColor":"white","padding":3,"symbolOffset":5,"labelOffset":0,"labelFont":"Liberation Serif","labelFontSize":18,"labelColor":"black","symbolSize":42,"symbolStrokeWidth":1.6,"symbolOpacity":1,"rowPadding":2.5}}}},
    {"data":{"name":"g1s"},"mark":{"type":"point","filled":true,"strokeWidth":1.8,"size":48,"opacity":1},
     "encoding":{"x":{"field":"t","type":"quantitative","scale":{"domain":[-1.2,100.8],"nice":false,"zero":false},"axis":{"orient":"top","values":[10,30,50,70,90],"tickSize":-4,"labels":false,"title":null}},
                 "y":{"field":"v","type":"quantitative","scale":{"domain":[0,12500],"nice":false,"zero":false},"axis":{"orient":"right","values":[1000,3000,5000,7000,9000,11000],"tickSize":-4,"labels":false,"title":null}},
                 "shape":{"field":"s","type":"nominal","scale":{"domain":["SW","SS","W","S"],"range":["M-2,-0.45H2V0.45H-2Z","M-2,-0.45H-0.2V0.45H-2ZM0.3,-0.45H2V0.45H0.3Z","circle","triangle-up"]}},
                 "fill":{"field":"s","type":"nominal","scale":{"domain":["SW","SS","W","S"],"range":["black","black","transparent","transparent"]}},
                 "stroke":{"field":"s","type":"nominal","scale":{"domain":["SW","SS","W","S"],"range":["black","black","black","black"]}}}},
    {"data":{"values":[{}]},"mark":{"type":"text","text":"Gloria","align":"left","baseline":"alphabetic","font":"Open Sans","fontSize":24,"color":"#333"},
     "encoding":{"x":{"datum":6.1,"type":"quantitative","scale":{"domain":[-1.2,100.8],"nice":false,"zero":false},"axis":null},
                 "y":{"datum":10950,"type":"quantitative","scale":{"domain":[0,12500],"nice":false,"zero":false},"axis":null}}}
   ]},
  {"width":361,"height":252,
   "resolve":{"axis":{"x":"independent","y":"independent"}},
   "layer":[
    {"data":{"name":"g2sw"},"mark":{"type":"line","color":"black","strokeWidth":4,"interpolate":"monotone"},
     "encoding":{"x":{"field":"t","type":"quantitative","scale":{"domain":[-0.2,100.65],"nice":false,"zero":false},"axis":{"orient":"bottom","values":[0,20,40,60,80,100],"tickSize":-8,"labelPadding":7,"title":"Time","titlePadding":0,"labelFont":"Liberation Serif","labelFontSize":18}},
                 "y":{"field":"v","type":"quantitative","scale":{"domain":[20,100],"nice":false,"zero":false},"axis":{"orient":"left","values":[20,40,60,80,100],"tickSize":-8,"labelPadding":15,"title":"D","titlePadding":6,"labelFont":"Liberation Serif","labelFontSize":18,"labelOffset":{"condition":{"test":"datum.value==100","value":7},"value":0}}}}},
    {"data":{"name":"g2ss"},"mark":{"type":"line","color":"black","strokeWidth":4,"strokeDash":[24,12],"interpolate":"monotone"},
     "encoding":{"x":{"field":"t","type":"quantitative","scale":{"domain":[-0.2,100.65],"nice":false,"zero":false},"axis":{"orient":"bottom","values":[10,30,50,70,90],"tickSize":-4,"labels":false,"title":null}},
                 "y":{"field":"v","type":"quantitative","scale":{"domain":[20,100],"nice":false,"zero":false},"axis":{"orient":"left","values":[30,50,70,90],"tickSize":-4,"labels":false,"title":null}}}},
    {"data":{"name":"g2w"},"mark":{"type":"point","shape":"circle","stroke":"black","strokeWidth":1.8,"size":36,"fill":"transparent","filled":true,"opacity":1},
     "encoding":{"x":{"field":"t","type":"quantitative","scale":{"domain":[-0.2,100.65],"nice":false,"zero":false},"axis":{"orient":"top","values":[20,40,60,80],"tickSize":-8,"labels":false,"title":null}},
                 "y":{"field":"v","type":"quantitative","scale":{"domain":[20,100],"nice":false,"zero":false},"axis":{"orient":"right","values":[40,60,80],"tickSize":-8,"labels":false,"title":null}}}},
    {"data":{"name":"g2s"},"mark":{"type":"point","shape":"triangle-up","stroke":"black","strokeWidth":1.8,"size":48,"fill":"transparent","filled":true,"opacity":1},
     "encoding":{"x":{"field":"t","type":"quantitative","scale":{"domain":[-0.2,100.65],"nice":false,"zero":false},"axis":{"orient":"top","values":[10,30,50,70,90],"tickSize":-4,"labels":false,"title":null}},
                 "y":{"field":"v","type":"quantitative","scale":{"domain":[20,100],"nice":false,"zero":false},"axis":{"orient":"right","values":[30,50,70,90],"tickSize":-4,"labels":false,"title":null}}}},
    {"data":{"values":[{}]},"mark":{"type":"text","text":"Gloria","align":"left","baseline":"alphabetic","font":"Open Sans","fontSize":24,"color":"#333"},
     "encoding":{"x":{"datum":5.2,"type":"quantitative","scale":{"domain":[-0.2,100.65],"nice":false,"zero":false},"axis":null},
                 "y":{"datum":90,"type":"quantitative","scale":{"domain":[20,100],"nice":false,"zero":false},"axis":null}}}
   ]}
 ]},
 {"spacing":12,
  "hconcat":[
  {"width":362,"height":252,
   "resolve":{"axis":{"x":"independent","y":"independent"}},
   "layer":[
    {"data":{"name":"g3sw"},"mark":{"type":"line","color":"black","strokeWidth":4,"interpolate":"monotone"},
     "encoding":{"x":{"field":"t","type":"quantitative","scale":{"domain":[-0.6,101.9],"nice":false,"zero":false},"axis":{"orient":"bottom","values":[0,20,40,60,80,100],"tickSize":-8,"labelPadding":10,"title":"Time","titlePadding":0,"labelFont":"Liberation Serif","labelFontSize":18}},
                 "y":{"field":"v","type":"quantitative","scale":{"domain":[0,12460],"nice":false,"zero":false},"axis":{"orient":"left","values":[0,2000,4000,6000,8000,10000,12000],"format":"d","tickSize":-8,"labelPadding":10,"title":"Vocabulary size","titlePadding":6,"labelFont":"Liberation Serif","labelFontSize":18}}}},
    {"data":{"name":"g3ss"},"mark":{"type":"line","color":"black","strokeWidth":4,"strokeDash":[24,12],"interpolate":"monotone"},
     "encoding":{"x":{"field":"t","type":"quantitative","scale":{"domain":[-0.6,101.9],"nice":false,"zero":false},"axis":{"orient":"bottom","values":[10,30,50,70,90],"tickSize":-4,"labels":false,"title":null}},
                 "y":{"field":"v","type":"quantitative","scale":{"domain":[0,12460],"nice":false,"zero":false},"axis":{"orient":"left","values":[1000,3000,5000,7000,9000,11000],"tickSize":-4,"labels":false,"title":null}}}},
    {"data":{"name":"g3w"},"mark":{"type":"point","shape":"circle","stroke":"black","strokeWidth":1.8,"size":36,"fill":"transparent","filled":true,"opacity":1},
     "encoding":{"x":{"field":"t","type":"quantitative","scale":{"domain":[-0.6,101.9],"nice":false,"zero":false},"axis":{"orient":"top","values":[20,40,60,80,100],"tickSize":-8,"labels":false,"title":null}},
                 "y":{"field":"v","type":"quantitative","scale":{"domain":[0,12460],"nice":false,"zero":false},"axis":{"orient":"right","values":[2000,4000,6000,8000,10000,12000],"tickSize":-8,"labels":false,"title":null}}}},
    {"data":{"name":"g3s"},"mark":{"type":"point","shape":"triangle-up","stroke":"black","strokeWidth":1.8,"size":48,"fill":"transparent","filled":true,"opacity":1},
     "encoding":{"x":{"field":"t","type":"quantitative","scale":{"domain":[-0.6,101.9],"nice":false,"zero":false},"axis":{"orient":"top","values":[10,30,50,70,90],"tickSize":-4,"labels":false,"title":null}},
                 "y":{"field":"v","type":"quantitative","scale":{"domain":[0,12460],"nice":false,"zero":false},"axis":{"orient":"right","values":[1000,3000,5000,7000,9000,11000],"tickSize":-4,"labels":false,"title":null}}}},
    {"data":{"values":[{}]},"mark":{"type":"text","text":"Grace","align":"left","baseline":"alphabetic","font":"Open Sans","fontSize":24,"color":"#333"},
     "encoding":{"x":{"datum":6.8,"type":"quantitative","scale":{"domain":[-0.6,101.9],"nice":false,"zero":false},"axis":null},
                 "y":{"datum":10700,"type":"quantitative","scale":{"domain":[0,12460],"nice":false,"zero":false},"axis":null}}}
   ]},
  {"width":362,"height":252,
   "resolve":{"axis":{"x":"independent","y":"independent"}},
   "layer":[
    {"data":{"name":"g4sw"},"mark":{"type":"line","color":"black","strokeWidth":4,"interpolate":"monotone"},
     "encoding":{"x":{"field":"t","type":"quantitative","scale":{"domain":[-0.6,101.7],"nice":false,"zero":false},"axis":{"orient":"bottom","values":[0,20,40,60,80,100],"tickSize":-8,"labelPadding":10,"title":"Time","titlePadding":0,"labelFont":"Liberation Serif","labelFontSize":18}},
                 "y":{"field":"v","type":"quantitative","scale":{"domain":[20,100.3],"nice":false,"zero":false},"axis":{"orient":"left","values":[20,40,60,80,100],"tickSize":-8,"labelPadding":11,"title":"D","titlePadding":10,"labelFont":"Liberation Serif","labelFontSize":18,"labelOffset":{"condition":{"test":"datum.value==100","value":7},"value":0}}}}},
    {"data":{"name":"g4ss"},"mark":{"type":"line","color":"black","strokeWidth":4,"strokeDash":[20,11],"interpolate":"monotone"},
     "encoding":{"x":{"field":"t","type":"quantitative","scale":{"domain":[-0.6,101.7],"nice":false,"zero":false},"axis":{"orient":"bottom","values":[10,30,50,70,90],"tickSize":-4,"labels":false,"title":null}},
                 "y":{"field":"v","type":"quantitative","scale":{"domain":[20,100.3],"nice":false,"zero":false},"axis":{"orient":"left","values":[30,50,70,90],"tickSize":-4,"labels":false,"title":null}}}},
    {"data":{"name":"g4w"},"mark":{"type":"point","shape":"circle","stroke":"black","strokeWidth":1.8,"size":36,"fill":"transparent","filled":true,"opacity":1},
     "encoding":{"x":{"field":"t","type":"quantitative","scale":{"domain":[-0.6,101.7],"nice":false,"zero":false},"axis":{"orient":"top","values":[20,40,60,80,100],"tickSize":-8,"labels":false,"title":null}},
                 "y":{"field":"v","type":"quantitative","scale":{"domain":[20,100.3],"nice":false,"zero":false},"axis":{"orient":"right","values":[40,60,80],"tickSize":-8,"labels":false,"title":null}}}},
    {"data":{"name":"g4s"},"mark":{"type":"point","shape":"triangle-up","stroke":"black","strokeWidth":1.8,"size":48,"fill":"transparent","filled":true,"opacity":1},
     "encoding":{"x":{"field":"t","type":"quantitative","scale":{"domain":[-0.6,101.7],"nice":false,"zero":false},"axis":{"orient":"top","values":[10,30,50,70,90],"tickSize":-4,"labels":false,"title":null}},
                 "y":{"field":"v","type":"quantitative","scale":{"domain":[20,100.3],"nice":false,"zero":false},"axis":{"orient":"right","values":[30,50,70,90],"tickSize":-4,"labels":false,"title":null}}}},
    {"data":{"values":[{}]},"mark":{"type":"text","text":"Grace","align":"left","baseline":"alphabetic","font":"Open Sans","fontSize":24,"color":"#333"},
     "encoding":{"x":{"datum":5,"type":"quantitative","scale":{"domain":[-0.6,101.7],"nice":false,"zero":false},"axis":null},
                 "y":{"datum":89.2,"type":"quantitative","scale":{"domain":[20,100.3],"nice":false,"zero":false},"axis":null}}}
   ]}
 ]}
]
}
